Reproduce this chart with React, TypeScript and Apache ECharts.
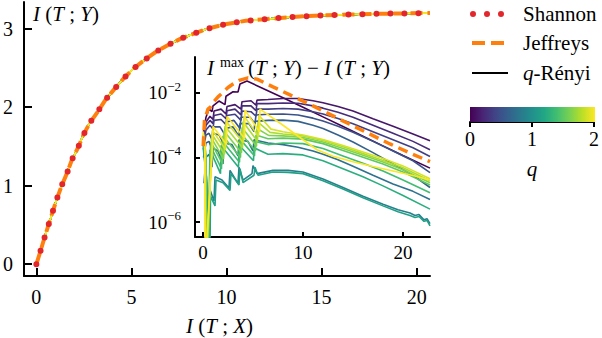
import React, { useEffect, useRef } from 'react';
import * as echarts from 'echarts';

const FONT = 'Liberation Serif';

// ---- main panel: I(T;Y) versus I(T;X)
const mainX = [0, 0.22, 0.43, 0.64, 0.86, 1.09, 1.33, 1.61, 1.87, 2.2, 2.48, 2.81, 3.25, 3.65, 4.1, 4.57, 5.09, 5.68, 6.26, 6.91, 7.57, 8.21, 9.0, 10.0, 11.0, 12.0, 13.5, 15.0, 16.5, 18.0, 19.5, 20.7];
const mainY = [0, 0.17, 0.34, 0.5, 0.67, 0.84, 1.0, 1.16, 1.33, 1.49, 1.65, 1.8, 1.95, 2.1, 2.23, 2.36, 2.49, 2.6, 2.7, 2.79, 2.87, 2.93, 3.0, 3.06, 3.1, 3.12, 3.15, 3.17, 3.18, 3.19, 3.195, 3.2];

const mainTicksX = [0, 5, 10, 15, 20];
const mainTicksY = [0, 1, 2, 3];

// ---- inset: log10 of I^max(T;Y) - I(T;Y), pairs [I(T;X), log10 difference]
const insetTicksX = [0, 10, 20];
const insetTicksY = [-6, -4, -2];

const jeffreysDiff = [[0.02, -3.65], [0.15, -2.85], [0.3, -2.7], [0.5, -2.5], [0.8, -2.42], [1.0, -2.3], [1.5, -2.12], [2.0, -1.98], [2.5, -1.83], [3.0, -1.72], [3.7, -1.6], [4.5, -1.53], [5.4, -1.57], [7, -1.81], [8.7, -2.06], [11, -2.4], [13.7, -2.82], [16, -3.17], [18.7, -3.58], [20.7, -3.86], [22.7, -4.13]];

const diffQ0 = [[0.05, -3.2], [0.3, -2.75], [0.6, -2.5], [0.9, -2.58], [1.0, -2.4], [1.6, -2.25], [2.2, -2.36], [2.3, -2.1], [3.0, -1.96], [3.5, -1.97], [3.7, -1.72], [4.4, -1.63], [6, -1.86], [8, -2.15], [10, -2.44], [12, -2.74], [14, -3.04], [16, -3.34], [18, -3.64], [20, -3.94], [22.7, -4.33]];
const diffQ0125 = [[0.05, -3.35], [0.3, -2.9], [0.7, -2.72], [1.0, -2.82], [1.1, -2.56], [1.8, -2.5], [2.3, -2.65], [2.4, -2.42], [3.2, -2.36], [3.8, -2.5], [3.9, -2.27], [4.8, -2.24], [5.3, -2.38], [5.4, -2.22], [6.5, -2.2], [8, -2.17], [9.5, -2.17], [11, -2.24], [12, -2.3], [13.5, -2.42], [15, -2.56], [17, -2.8], [19, -3.03], [21, -3.27], [22.7, -3.48]];
const diffQ025 = [[0.05, -3.4], [0.3, -3.0], [0.7, -2.85], [1.0, -2.95], [1.1, -2.7], [1.8, -2.65], [2.3, -2.8], [2.4, -2.55], [3.2, -2.5], [3.8, -2.68], [3.9, -2.4], [4.8, -2.4], [5.3, -2.55], [5.4, -2.33], [6.5, -2.33], [8, -2.31], [9.5, -2.32], [11, -2.4], [12, -2.47], [13.5, -2.6], [15, -2.75], [17, -3.0], [19, -3.25], [21, -3.5], [22.7, -3.76]];
const diffQ0375 = [[0.05, -3.5], [0.3, -3.15], [0.7, -3.0], [1.0, -3.12], [1.1, -2.85], [1.8, -2.82], [2.3, -2.98], [2.4, -2.7], [3.2, -2.66], [3.8, -2.85], [3.9, -2.56], [4.8, -2.58], [5.3, -2.72], [5.4, -2.5], [6.5, -2.5], [8, -2.48], [9.5, -2.5], [11, -2.58], [12, -2.65], [13.5, -2.79], [15, -2.95], [17, -3.2], [19, -3.45], [21, -3.7], [22.7, -3.97]];
const diffQ05 = [[0.05, -3.7], [0.3, -3.3], [0.6, -3.25], [0.9, -3.45], [1.0, -3.05], [1.7, -3.05], [2.2, -3.3], [2.3, -2.9], [3.1, -2.85], [3.7, -3.1], [3.8, -2.75], [4.7, -2.75], [5.2, -2.95], [5.3, -2.68], [6.5, -2.66], [8, -2.65], [9.5, -2.68], [11, -2.78], [12, -2.87], [13.5, -3.03], [15, -3.22], [17, -3.5], [19, -3.8], [21, -4.1], [22.7, -4.47]];
const diffQ0625 = [[0.05, -4.0], [0.3, -3.55], [0.6, -3.5], [0.9, -3.75], [1.0, -3.25], [1.6, -3.3], [2.1, -3.6], [2.2, -3.1], [3.0, -3.05], [3.6, -3.35], [3.7, -2.95], [4.6, -2.95], [5.1, -3.2], [5.2, -2.88], [6.5, -2.85], [8, -2.84], [9.5, -2.88], [11, -3.0], [12, -3.1], [13.5, -3.3], [15, -3.52], [17, -3.85], [19, -4.2], [21, -4.55], [22.7, -4.93]];
const diffQ075 = [[0.1, -4.8], [0.3, -4.0], [0.6, -3.9], [0.9, -4.3], [1.0, -3.7], [1.5, -3.8], [2.0, -4.2], [2.1, -3.55], [2.9, -3.6], [3.5, -3.95], [3.6, -3.45], [4.5, -3.5], [5.0, -3.8], [5.1, -3.45], [6.5, -3.55], [8, -3.6], [9.5, -3.68], [11, -3.8], [12, -3.9], [13.5, -4.07], [15, -4.27], [17, -4.55], [19, -4.82], [21, -5.05], [22.7, -5.3]];
const diffQ0875 = [[0.02, -3.6], [0.35, -4.6], [0.45, -6.8], [0.6, -6.8], [0.7, -5.0], [1.1, -5.35], [1.2, -4.6], [1.9, -4.7], [2.6, -4.95], [2.7, -4.4], [3.5, -4.8], [3.6, -4.3], [4.0, -4.7], [4.9, -4.5], [5.0, -4.25], [5.4, -4.5], [7, -4.4], [8.5, -4.4], [10, -4.45], [12, -4.67], [14, -4.93], [16, -5.2], [18, -5.45], [19.5, -5.62], [20.7, -5.72], [21.2, -5.8], [21.6, -5.77], [22.1, -5.93], [22.4, -5.9], [22.7, -6.05]];
const diffQ1125 = [[0.02, -3.7], [0.4, -4.8], [0.5, -6.8], [0.7, -6.8], [0.75, -5.2], [1.2, -5.5], [1.3, -4.7], [2.0, -4.78], [2.7, -5.02], [2.8, -4.5], [3.6, -4.85], [3.7, -4.35], [4.0, -4.78], [5.1, -4.55], [5.2, -4.3], [5.5, -4.55], [7, -4.45], [8.5, -4.46], [10, -4.5], [12, -4.72], [14, -4.98], [16, -5.25], [18, -5.5], [19.5, -5.68], [20.7, -5.8], [21.2, -5.86], [21.6, -5.83], [22.1, -5.98], [22.4, -5.95], [22.7, -6.12]];
const diffQ125 = [[0.02, -3.5], [0.3, -4.2], [0.35, -6.8], [0.5, -6.8], [0.65, -4.6], [0.7, -3.76], [1.75, -4.5], [1.8, -3.63], [3.55, -4.3], [3.6, -3.61], [5.05, -4.1], [5.1, -3.7], [6.5, -3.9], [8, -3.88], [10, -3.92], [12, -4.1], [14, -4.35], [16, -4.6], [18, -4.88], [20, -5.18], [22.7, -5.6]];
const diffQ1375 = [[0.02, -3.45], [0.3, -4.0], [0.4, -6.8], [0.55, -6.8], [0.7, -4.5], [0.75, -3.64], [1.85, -4.35], [1.9, -3.48], [3.65, -4.15], [3.7, -3.43], [5.15, -3.95], [5.2, -3.5], [6.5, -3.6], [8, -3.55], [10, -3.57], [12, -3.72], [14, -3.95], [16, -4.18], [18, -4.42], [20, -4.7], [22.7, -5.09]];
const diffQ15 = [[0.02, -3.4], [0.28, -3.9], [0.33, -6.8], [0.5, -6.8], [0.75, -4.3], [0.8, -3.52], [1.95, -4.2], [2.0, -3.33], [3.75, -4.0], [3.8, -3.25], [5.25, -3.8], [5.3, -3.3], [6.5, -3.42], [8, -3.4], [10, -3.43], [12, -3.57], [14, -3.78], [16, -3.99], [18, -4.2], [20, -4.45], [22.7, -4.85]];
const diffQ1625 = [[0.02, -3.35], [0.26, -3.8], [0.3, -6.8], [0.45, -6.8], [0.8, -4.1], [0.85, -3.4], [2.05, -4.05], [2.1, -3.18], [3.85, -3.85], [3.9, -3.07], [5.35, -3.65], [5.4, -3.1], [6.6, -3.32], [8, -3.33], [10, -3.38], [12, -3.52], [14, -3.72], [16, -3.93], [18, -4.14], [20, -4.38], [22.7, -4.78]];
const diffQ175 = [[0.02, -3.3], [0.23, -3.7], [0.27, -6.8], [0.4, -6.8], [0.85, -3.95], [0.9, -3.28], [2.15, -3.9], [2.2, -3.03], [3.95, -3.7], [4.0, -2.89], [5.45, -3.5], [5.5, -2.9], [6.7, -3.22], [8, -3.27], [10, -3.33], [12, -3.47], [14, -3.67], [16, -3.88], [18, -4.09], [20, -4.32], [22.7, -4.72]];
const diffQ1875 = [[0.02, -3.25], [0.2, -3.62], [0.24, -6.8], [0.37, -6.8], [0.9, -3.8], [0.95, -3.16], [2.25, -3.75], [2.3, -2.88], [4.05, -3.55], [4.1, -2.71], [5.55, -3.35], [5.6, -2.7], [6.8, -3.12], [8, -3.2], [10, -3.3], [12, -3.44], [14, -3.63], [16, -3.83], [18, -4.03], [20, -4.26], [22.7, -4.66]];
const diffQ2 = [[0.02, -3.2], [0.17, -3.55], [0.2, -6.8], [0.33, -6.8], [0.95, -3.65], [1.0, -3.04], [2.35, -3.6], [2.4, -2.73], [4.15, -3.4], [4.2, -2.53], [5.65, -3.2], [5.7, -2.5], [8, -3.0], [10, -3.45], [11.4, -3.76], [13, -3.96], [15, -4.13], [17, -4.28], [19, -4.42], [21, -4.56], [22.7, -4.7]];

const qValues = [0, 0.125, 0.25, 0.375, 0.5, 0.625, 0.75, 0.875, 1.125, 1.25, 1.375, 1.5, 1.625, 1.75, 1.875, 2];
const renyiDiffs = [diffQ0, diffQ0125, diffQ025, diffQ0375, diffQ05, diffQ0625, diffQ075, diffQ0875, diffQ1125, diffQ125, diffQ1375, diffQ15, diffQ1625, diffQ175, diffQ1875, diffQ2];

const colorbarTicks = [0, 1, 2];

// viridis colour stops
const viridisStops = ['#440154', '#482475', '#414487', '#355f8d', '#2a788e', '#21918c', '#22a884', '#44bf70', '#7ad151', '#bddf26', '#fde725'];

function hexToRgb(h: string) {
  return [parseInt(h.slice(1, 3), 16), parseInt(h.slice(3, 5), 16), parseInt(h.slice(5, 7), 16)];
}
function viridis(t: number) {
  const n = viridisStops.length - 1;
  const p = Math.max(0, Math.min(1, t)) * n;
  const i = Math.min(n - 1, Math.floor(p));
  const f = p - i;
  const a = hexToRgb(viridisStops[i]);
  const b = hexToRgb(viridisStops[i + 1]);
  const c = a.map((v, k) => Math.round(v + (b[k] - v) * f));
  return `rgb(${c[0]},${c[1]},${c[2]})`;
}

const RED = '#e3262b';
const ORANGE = '#ff7f0e';

export default function App() {
  const ref = useRef<HTMLDivElement>(null);
  useEffect(() => {
    if (!ref.current) return;
    const chart = echarts.init(ref.current, undefined, { renderer: 'svg' });
    const mainData = mainX.map((x, i) => [x, mainY[i]]);
    const labelStyle = { color: '#000', fontFamily: FONT };

    const series: any[] = [];
    qValues.forEach((q) => {
      series.push({
        type: 'line', xAxisIndex: 0, yAxisIndex: 0, data: mainData, showSymbol: false, symbol: 'none',
        lineStyle: { color: viridis(q / 2), width: 1.6 }, z: 2,
      });
    });
    series.push({
      type: 'line', xAxisIndex: 0, yAxisIndex: 0, data: mainData, showSymbol: false, symbol: 'none',
      lineStyle: { color: ORANGE, width: 4, type: [12, 5] }, z: 3,
    });
    series.push({
      type: 'line', xAxisIndex: 0, yAxisIndex: 0, data: mainData, showSymbol: false, symbol: 'none',
      lineStyle: { color: RED, width: 6, type: [0, 14], cap: 'round' }, z: 4,
    });
    qValues.forEach((q, i) => {
      series.push({
        type: 'line', xAxisIndex: 1, yAxisIndex: 1, data: renyiDiffs[i], showSymbol: false, symbol: 'none',
        lineStyle: { color: viridis(q / 2), width: 1.6 }, z: 5, clip: true,
      });
    });
    series.push({
      type: 'line', xAxisIndex: 1, yAxisIndex: 1, data: jeffreysDiff, showSymbol: false, symbol: 'none',
      lineStyle: { color: ORANGE, width: 3.5, type: [10, 6] }, z: 6, clip: true,
    });

    const axisCommon = (ticks: number[], len: number, fs: number, margin: number) => ({
      axisLine: { show: true, onZero: false, lineStyle: { color: '#000', width: 2 } },
      axisTick: { show: true, inside: true, length: len, customValues: ticks, lineStyle: { color: '#000', width: 2 } },
      axisLabel: { ...labelStyle, fontSize: fs, margin, customValues: ticks },
      splitLine: { show: false },
    });

    const gradStops = viridisStops.map((c, i) => ({ offset: i / (viridisStops.length - 1), color: c }));

    const mathText = (parts: [string, boolean][]) =>
      parts.map(([s, it]) => `{${it ? 'i' : 'n'}|${s}}`).join('');
    const mathRich = (fs: number) => ({
      i: { fontFamily: FONT, fontSize: fs, fontStyle: 'italic', color: '#000' },
      n: { fontFamily: FONT, fontSize: fs, color: '#000' },
    });

    const option: any = {
      animation: false,
      grid: [
        { left: 21, top: 2, width: 409, height: 274 },
        { left: 195, top: 57, width: 235, height: 180 },
        { left: 470, top: 107, width: 125, height: 15 },
      ],
      xAxis: [
        { type: 'value', gridIndex: 0, min: -0.65, max: 20.7, ...axisCommon(mainTicksX, 8, 20, 11) },
        { type: 'value', gridIndex: 1, min: -0.8, max: 22.7, ...axisCommon(insetTicksX, 5, 19, 6) },
        {
          type: 'value', gridIndex: 2, min: 0, max: 2,
          axisLine: { show: true, onZero: false, lineStyle: { color: '#000', width: 2 } },
          axisTick: { show: true, inside: false, length: 5, customValues: colorbarTicks, lineStyle: { color: '#000', width: 2 } },
          axisLabel: { ...labelStyle, fontSize: 20, margin: 7, customValues: colorbarTicks },
          splitLine: { show: false },
          name: 'q', nameLocation: 'middle', nameGap: 36,
          nameTextStyle: { ...labelStyle, fontSize: 21, fontStyle: 'italic' },
        },
      ],
      yAxis: [
        { type: 'value', gridIndex: 0, min: -0.15, max: 3.34, ...axisCommon(mainTicksY, 8, 20, 11) },
        {
          type: 'value', gridIndex: 1, min: -6.465, max: -0.884, ...axisCommon(insetTicksY, 5, 19, 14),
          axisLabel: {
            ...labelStyle, margin: 14, customValues: insetTicksY,
            formatter: (v: number) => `{b|10}{s|${v < 0 ? '\u2212' : ''}${Math.abs(v)}}`,
            rich: {
              b: { fontFamily: FONT, fontSize: 19, lineHeight: 26, color: '#000' },
              s: { fontFamily: FONT, fontSize: 13, lineHeight: 13, verticalAlign: 'top', color: '#000' },
            },
          },
        },
        { type: 'value', gridIndex: 2, min: 0, max: 1, show: false },
      ],
      series,
      graphic: [
        {
          type: 'rect', shape: { x: 470, y: 107, width: 125, height: 15 }, z: 1,
          style: { fill: new echarts.graphic.LinearGradient(0, 0, 1, 0, gradStops) },
        },
        // main y label
        {
          type: 'text', x: 33, y: 3,
          style: {
            text: mathText([['I', true], [' (', false], ['T', true], [' ; ', false], ['Y', true], [')', false]]),
            rich: mathRich(21),
          },
        },
        // main x label
        {
          type: 'text', x: 186, y: 315,
          style: {
            text: mathText([['I', true], [' (', false], ['T', true], [' ; ', false], ['X', true], [')', false]]),
            rich: mathRich(21),
          },
        },
        // inset title
        {
          type: 'text', x: 207, y: 57,
          style: { text: 'I', font: `italic 21px ${FONT}`, fill: '#000' },
        },
        {
          type: 'text', x: 220, y: 55,
          style: { text: 'max', font: `14px ${FONT}`, fill: '#000' },
        },
        {
          type: 'text', x: 248, y: 57,
          style: {
            text: mathText([['(', false], ['T', true], [' ; ', false], ['Y', true], [') \u2212 ', false], ['I', true], [' (', false], ['T', true], [' ; ', false], ['Y', true], [')', false]]),
            rich: mathRich(21),
          },
        },
        // legend
        {
          type: 'line', shape: { x1: 473, y1: 14, x2: 501.5, y2: 14 },
          style: { stroke: RED, lineWidth: 6, lineDash: [0, 14], lineCap: 'round' },
        },
        { type: 'text', x: 523, y: 3, style: { text: 'Shannon', font: `21px ${FONT}`, fill: '#000' } },
        {
          type: 'line', shape: { x1: 472, y1: 43, x2: 508, y2: 43 },
          style: { stroke: ORANGE, lineWidth: 4, lineDash: [13, 6] },
        },
        { type: 'text', x: 523, y: 32, style: { text: 'Jeffreys', font: `21px ${FONT}`, fill: '#000' } },
        {
          type: 'line', shape: { x1: 472, y1: 73, x2: 508, y2: 73 },
          style: { stroke: '#000', lineWidth: 2 },
        },
        {
          type: 'text', x: 523, y: 62,
          style: { text: '{i|q}{n|-Rényi}', rich: mathRich(21) },
        },
      ],
    };
    chart.setOption(option);
    return () => chart.dispose();
  }, []);
  return <div ref={ref} style={{ position: 'fixed', left: 0, top: 0, width: 602, height: 338, background: '#fff' }} />;
}
